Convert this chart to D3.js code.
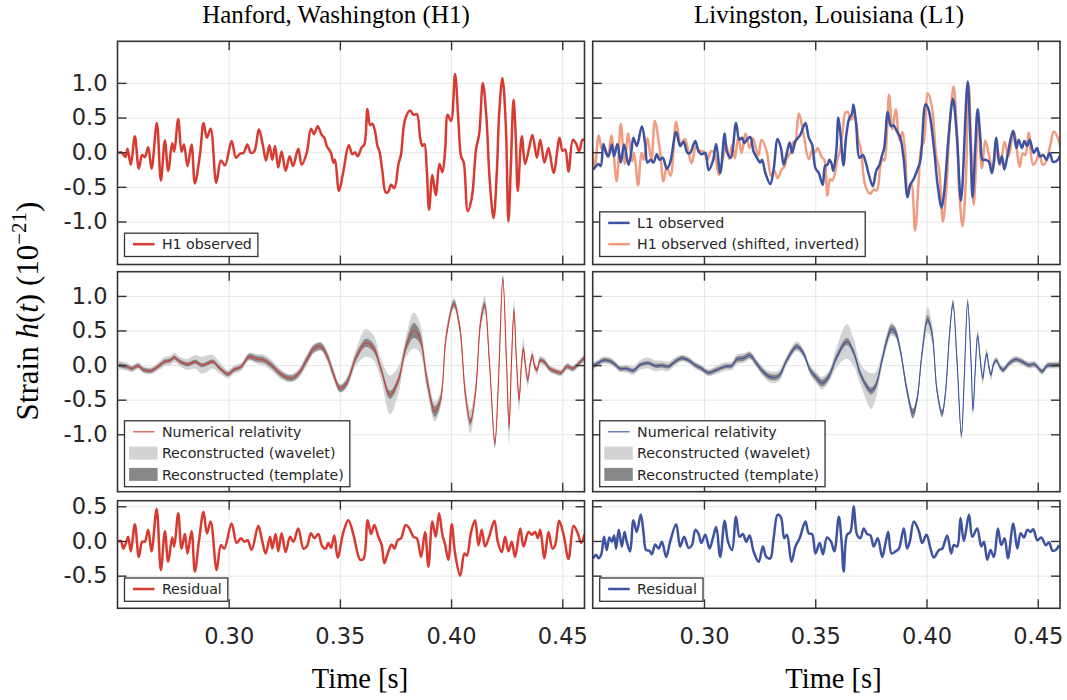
<!DOCTYPE html>
<html>
<head>
<meta charset="utf-8">
<script src="https://cdn.jsdelivr.net/npm/d3@7"></script>
<style>
  body { margin: 0; background: #fff; }
  svg text { font-family: "DejaVu Sans", sans-serif; }
</style>
</head>
<body>
<div id="chart"></div>
<script>
// ---- data ----
var timeDomain = [0.25, 0.46];
var timeTicks = [0.30, 0.35, 0.40, 0.45];
var strainTicks = [-1.0, -0.5, 0.0, 0.5, 1.0];
var residualTicks = [-0.5, 0.0, 0.5];
var columnTitles = ["Hanford, Washington (H1)", "Livingston, Louisiana (L1)"];
var h1Shift = 0.0069; // H1 shifted by 6.9 ms and inverted in the L1 panel

// [time s, strain 1e-21]
var h1Observed = [
  [0.2503,-0.01],[0.2515,0.00],[0.2526,-0.03],[0.2536,-0.07],[0.2545,0.05],[0.2560,-0.18],[0.2578,0.23],[0.2596,-0.24],
  [0.2611,-0.04],[0.2623,-0.07],[0.2638,0.07],[0.2653,-0.24],[0.2677,0.42],[0.2695,-0.41],[0.2713,0.17],[0.2728,-0.27],
  [0.2746,0.13],[0.2755,0.01],[0.2773,0.48],[0.2788,0.01],[0.2799,0.11],[0.2815,-0.20],[0.2833,0.11],[0.2848,-0.45],
  [0.2871,-0.03],[0.2887,0.42],[0.2902,0.21],[0.2919,0.34],[0.2944,-0.44],[0.2965,-0.12],[0.2983,-0.19],[0.3013,0.16],
  [0.3033,-0.08],[0.3051,-0.02],[0.3067,-0.01],[0.3084,0.11],[0.3100,-0.01],[0.3115,0.01],[0.3136,0.33],[0.3153,0.11],
  [0.3168,-0.12],[0.3183,0.10],[0.3196,-0.11],[0.3208,0.09],[0.3223,-0.22],[0.3238,0.01],[0.3256,-0.27],[0.3274,-0.06],
  [0.3289,-0.20],[0.3313,0.05],[0.3328,-0.18],[0.3351,-0.01],[0.3370,0.34],[0.3384,0.26],[0.3400,0.375],[0.3418,0.25],
  [0.3430,0.21],[0.3441,0.09],[0.3460,-0.01],[0.3471,-0.15],[0.3478,-0.11],[0.3496,-0.56],[0.3516,-0.27],[0.3540,0.10],
  [0.3556,-0.03],[0.3568,0.00],[0.3580,-0.06],[0.3598,0.07],[0.3610,0.11],[0.3624,0.625],[0.3636,0.39],[0.3646,0.41],
  [0.3658,0.30],[0.3669,0.09],[0.3678,0.01],[0.3691,-0.27],[0.3706,-0.58],[0.3718,-0.57],[0.3730,-0.47],[0.3745,-0.52],
  [0.3763,-0.18],[0.3775,-0.03],[0.3793,0.47],[0.3816,0.60],[0.3831,0.54],[0.3846,0.55],[0.3861,0.21],[0.3871,0.09],
  [0.3880,0.12],[0.3891,-0.27],[0.3901,-0.83],[0.3916,-0.33],[0.3931,-0.62],[0.3948,-0.17],[0.3961,-0.29],[0.3973,0.01],
  [0.3985,0.54],[0.4000,0.45],[0.4018,1.13],[0.4033,0.45],[0.4045,-0.06],[0.4057,-0.15],[0.4075,-0.85],[0.4093,-0.66],
  [0.4113,0.06],[0.4126,0.25],[0.4143,1.00],[0.4159,0.50],[0.4173,-0.37],[0.4191,-0.95],[0.4206,-0.27],[0.4216,0.54],
  [0.4231,1.07],[0.4246,0.40],[0.4258,-1.00],[0.4269,-0.18],[0.4281,0.76],[0.4291,0.21],[0.4300,-0.56],[0.4318,0.23],
  [0.4333,-0.17],[0.4351,0.06],[0.4366,0.25],[0.4386,-0.08],[0.4401,0.18],[0.4420,-0.15],[0.4438,0.06],[0.4461,-0.30],
  [0.4488,0.21],[0.4501,0.02],[0.4513,0.04],[0.4528,-0.28],[0.4548,0.18],[0.4563,0.12],[0.4576,0.01],[0.4591,0.18],
  [0.4603,0.16],[0.4626,-0.11],[0.4641,-0.30],[0.4659,-0.21],[0.4671,-0.06]
];

var l1Observed = [
  [0.2503,-0.25],[0.2515,-0.20],[0.2526,-0.17],[0.2536,-0.20],[0.2548,0.12],[0.2560,-0.01],[0.2571,-0.06],[0.2586,0.11],
  [0.2596,-0.06],[0.2611,0.12],[0.2626,-0.15],[0.2641,0.11],[0.2661,-0.18],[0.2673,-0.01],[0.2683,0.21],[0.2698,0.09],
  [0.2721,0.375],[0.2736,0.11],[0.2746,-0.15],[0.2761,-0.11],[0.2773,-0.15],[0.2788,-0.03],[0.2800,-0.11],[0.2815,-0.08],
  [0.2833,-0.24],[0.2848,-0.15],[0.2875,0.29],[0.2893,0.09],[0.2908,0.15],[0.2926,-0.01],[0.2938,-0.01],[0.2961,0.16],
  [0.2976,0.01],[0.2991,-0.03],[0.3006,-0.01],[0.3021,-0.26],[0.3040,-0.13],[0.3055,0.12],[0.3073,-0.30],[0.3093,0.27],
  [0.3103,0.01],[0.3121,-0.08],[0.3144,0.42],[0.3159,0.18],[0.3171,0.21],[0.3181,0.13],[0.3193,0.18],[0.3208,0.22],
  [0.3223,0.01],[0.3238,-0.08],[0.3253,-0.15],[0.3261,-0.11],[0.3276,-0.30],[0.3298,-0.46],[0.3313,-0.25],[0.3331,0.19],
  [0.3346,0.06],[0.3358,-0.18],[0.3369,-0.06],[0.3385,0.14],[0.3396,-0.01],[0.3411,0.16],[0.3433,0.25],[0.3456,0.42],
  [0.3471,0.21],[0.3486,0.11],[0.3501,-0.23],[0.3516,-0.30],[0.3534,-0.47],[0.3544,-0.20],[0.3555,-0.18],[0.3564,-0.11],
  [0.3574,-0.17],[0.3581,-0.27],[0.3594,-0.01],[0.3604,0.50],[0.3615,0.21],[0.3627,-0.19],[0.3639,0.23],[0.3654,0.50],
  [0.3664,0.54],[0.3672,0.69],[0.3684,0.40],[0.3699,-0.08],[0.3714,-0.04],[0.3729,-0.17],[0.3739,-0.30],[0.3759,-0.49],
  [0.3774,-0.27],[0.3789,-0.18],[0.3799,-0.06],[0.3810,0.06],[0.3826,0.58],[0.3840,0.375],[0.3852,0.39],[0.3867,0.30],
  [0.3882,0.21],[0.3897,-0.08],[0.3915,-0.65],[0.3927,-0.47],[0.3942,-0.39],[0.3957,-0.27],[0.3972,-0.13],[0.3996,0.69],
  [0.4009,0.62],[0.4032,0.11],[0.4050,-0.47],[0.4068,-0.80],[0.4080,-0.56],[0.4099,0.21],[0.4119,0.77],[0.4137,0.21],
  [0.4155,-0.70],[0.4185,1.02],[0.4197,0.21],[0.4207,-0.65],[0.4219,0.06],[0.4230,0.62],[0.4242,0.21],[0.4252,-0.11],
  [0.4264,-0.11],[0.4279,-0.13],[0.4294,-0.30],[0.4314,0.21],[0.4327,-0.17],[0.4339,-0.06],[0.4350,-0.25],[0.4365,-0.03],
  [0.4389,0.31],[0.4404,0.06],[0.4414,0.18],[0.4429,0.06],[0.4440,0.16],[0.4452,0.09],[0.4464,0.18],[0.4482,-0.01],
  [0.4497,0.06],[0.4509,-0.06],[0.4524,-0.04],[0.4539,-0.11],[0.4554,-0.01],[0.4569,-0.14],[0.4590,-0.11],[0.4602,-0.03]
];

// [time, numerical relativity, wavelet band half width, template band half width]
var h1Recon = [
  [0.2506,0.00,0.06,0.03],[0.2540,-0.02,0.06,0.03],[0.2566,-0.05,0.05,0.03],[0.2592,-0.01,0.05,0.03],
  [0.2618,-0.07,0.05,0.03],[0.2652,-0.08,0.05,0.03],[0.2687,-0.01,0.06,0.03],[0.2712,0.05,0.07,0.03],
  [0.2738,0.07,0.07,0.03],[0.2755,0.11,0.07,0.03],[0.2781,0.05,0.07,0.03],[0.2816,0.01,0.08,0.03],
  [0.2850,0.05,0.10,0.03],[0.2876,0.00,0.12,0.03],[0.2902,0.02,0.12,0.03],[0.2928,0.05,0.10,0.03],
  [0.2962,-0.05,0.08,0.03],[0.2997,-0.13,0.06,0.03],[0.3022,-0.07,0.06,0.03],[0.3057,-0.02,0.06,0.03],
  [0.3091,0.12,0.06,0.04],[0.3126,0.09,0.07,0.04],[0.3160,0.07,0.08,0.04],[0.3195,-0.01,0.08,0.04],
  [0.3238,-0.14,0.07,0.04],[0.3281,-0.19,0.06,0.04],[0.3315,-0.12,0.07,0.04],[0.3350,0.07,0.08,0.05],
  [0.3384,0.24,0.07,0.05],[0.3415,0.27,0.06,0.05],[0.3444,0.12,0.08,0.05],[0.3470,-0.12,0.08,0.05],
  [0.3501,-0.34,0.06,0.05],[0.3530,-0.26,0.08,0.05],[0.3574,0.12,0.12,0.05],[0.3617,0.32,0.20,0.06],
  [0.3651,0.25,0.18,0.06],[0.3686,-0.07,0.15,0.05],[0.3725,-0.43,0.28,0.06],[0.3763,-0.22,0.20,0.06],
  [0.3797,0.26,0.15,0.07],[0.3832,0.50,0.26,0.11],[0.3858,0.41,0.22,0.09],[0.3892,-0.22,0.15,0.07],
  [0.3927,-0.67,0.14,0.08],[0.3952,-0.51,0.12,0.06],[0.3978,0.41,0.10,0.05],[0.4013,0.89,0.08,0.05],
  [0.4039,0.55,0.10,0.05],[0.4064,-0.41,0.14,0.05],[0.4087,-0.82,0.17,0.05],[0.4111,-0.36,0.12,0.05],
  [0.4133,0.63,0.12,0.05],[0.4151,0.87,0.13,0.05],[0.4173,0.02,0.10,0.05],[0.4197,-1.13,0.08,0.05],
  [0.4214,-0.17,0.08,0.05],[0.4233,1.25,0.06,0.04],[0.4249,0.07,0.10,0.05],[0.4261,-0.89,0.24,0.07],
  [0.4271,-0.02,0.15,0.05],[0.4283,0.79,0.15,0.05],[0.4294,0.07,0.12,0.04],[0.4306,-0.50,0.15,0.05],
  [0.4316,-0.02,0.12,0.04],[0.4325,0.24,0.14,0.04],[0.4335,-0.02,0.10,0.04],[0.4345,-0.22,0.10,0.04],
  [0.4356,0.02,0.08,0.03],[0.4366,0.14,0.08,0.03],[0.4376,-0.02,0.07,0.03],[0.4387,-0.07,0.07,0.03],
  [0.4400,0.07,0.06,0.03],[0.4418,0.05,0.06,0.03],[0.4443,-0.05,0.05,0.03],[0.4469,-0.09,0.05,0.03],
  [0.4495,-0.11,0.05,0.03],[0.4521,-0.02,0.05,0.03],[0.4547,-0.05,0.05,0.03],[0.4573,0.02,0.05,0.03],
  [0.4598,0.10,0.05,0.03]
];

var l1Recon = [
  [0.2502,-0.01,0.05,0.03],[0.2525,0.03,0.05,0.03],[0.2547,0.07,0.05,0.03],[0.2577,0.06,0.05,0.03],
  [0.2600,0.01,0.05,0.03],[0.2622,-0.05,0.05,0.03],[0.2652,-0.05,0.06,0.03],[0.2682,-0.08,0.06,0.03],
  [0.2712,0.00,0.07,0.03],[0.2750,0.03,0.08,0.03],[0.2780,-0.01,0.08,0.03],[0.2810,-0.005,0.07,0.03],
  [0.2840,-0.02,0.07,0.03],[0.2870,0.05,0.06,0.03],[0.2900,0.10,0.05,0.03],[0.2930,0.07,0.05,0.03],
  [0.2960,0.00,0.05,0.03],[0.2990,-0.05,0.05,0.03],[0.3020,-0.11,0.05,0.03],[0.3057,-0.07,0.06,0.03],
  [0.3095,-0.02,0.06,0.03],[0.3125,-0.01,0.06,0.03],[0.3147,0.08,0.07,0.04],[0.3177,0.10,0.07,0.04],
  [0.3207,0.14,0.06,0.04],[0.3237,0.02,0.06,0.04],[0.3267,-0.10,0.07,0.04],[0.3297,-0.17,0.08,0.04],
  [0.3335,-0.16,0.08,0.04],[0.3372,0.07,0.07,0.04],[0.3417,0.27,0.07,0.04],[0.3447,0.17,0.06,0.04],
  [0.3477,-0.07,0.07,0.04],[0.3507,-0.19,0.08,0.05],[0.3530,-0.26,0.09,0.05],[0.3560,-0.17,0.08,0.05],
  [0.3597,0.12,0.15,0.05],[0.3642,0.34,0.25,0.05],[0.3672,0.19,0.20,0.05],[0.3702,-0.12,0.15,0.05],
  [0.3732,-0.31,0.22,0.05],[0.3750,-0.375,0.26,0.05],[0.3770,-0.31,0.20,0.05],[0.3800,0.07,0.10,0.05],
  [0.3822,0.36,0.10,0.06],[0.3842,0.52,0.10,0.06],[0.3860,0.48,0.08,0.06],[0.3882,0.22,0.07,0.05],
  [0.3912,-0.36,0.07,0.06],[0.3939,-0.70,0.06,0.07],[0.3957,-0.51,0.06,0.06],[0.3980,0.17,0.10,0.05],
  [0.4005,0.66,0.18,0.06],[0.4025,0.46,0.14,0.06],[0.4047,-0.36,0.06,0.05],[0.4070,-0.70,0.06,0.05],
  [0.4085,-0.41,0.06,0.05],[0.4104,0.46,0.06,0.05],[0.4119,0.89,0.06,0.05],[0.4137,0.07,0.06,0.05],
  [0.4157,-1.01,0.06,0.05],[0.4170,-0.17,0.06,0.04],[0.4185,0.91,0.07,0.04],[0.4200,0.07,0.07,0.04],
  [0.4209,-0.65,0.07,0.04],[0.4220,-0.02,0.07,0.04],[0.4230,0.43,0.09,0.04],[0.4242,0.07,0.07,0.04],
  [0.4253,-0.19,0.09,0.04],[0.4262,0.02,0.07,0.03],[0.4271,0.17,0.08,0.03],[0.4280,-0.02,0.06,0.03],
  [0.4290,-0.14,0.08,0.03],[0.4302,0.02,0.06,0.03],[0.4314,0.07,0.05,0.03],[0.4329,-0.02,0.05,0.03],
  [0.4344,-0.07,0.05,0.03],[0.4370,0.02,0.05,0.03],[0.4400,0.08,0.05,0.03],[0.4430,0.05,0.05,0.03],
  [0.4460,0.00,0.05,0.03],[0.4485,0.01,0.05,0.03],[0.4520,-0.09,0.05,0.03],[0.4542,-0.01,0.05,0.03],
  [0.4572,0.00,0.05,0.03],[0.4602,0.005,0.05,0.03]
];

var h1Residual = [
  [0.2503,-0.01],[0.2515,0.00],[0.2526,-0.11],[0.2538,-0.03],[0.2548,0.06],[0.2560,-0.15],[0.2578,0.24],[0.2596,-0.23],
  [0.2611,-0.01],[0.2623,-0.01],[0.2638,0.16],[0.2653,-0.15],[0.2676,0.46],[0.2695,-0.42],[0.2713,0.14],[0.2728,-0.30],
  [0.2746,0.05],[0.2755,-0.08],[0.2773,0.40],[0.2788,-0.11],[0.2803,0.10],[0.2815,-0.18],[0.2833,0.14],[0.2848,-0.44],
  [0.2866,-0.01],[0.2887,0.42],[0.2902,0.11],[0.2919,0.28],[0.2946,-0.42],[0.2965,-0.06],[0.2980,-0.11],[0.3013,0.25],
  [0.3036,-0.03],[0.3055,0.04],[0.3070,-0.01],[0.3085,0.01],[0.3103,-0.13],[0.3133,0.22],[0.3148,0.04],[0.3166,-0.18],
  [0.3186,0.06],[0.3196,-0.11],[0.3211,0.10],[0.3223,-0.15],[0.3238,0.11],[0.3256,-0.16],[0.3276,0.06],[0.3291,-0.01],
  [0.3313,0.18],[0.3336,-0.11],[0.3351,-0.08],[0.3370,0.11],[0.3385,0.04],[0.3403,0.10],[0.3421,-0.08],[0.3436,-0.11],
  [0.3448,-0.03],[0.3460,-0.10],[0.3475,0.08],[0.3490,-0.24],[0.3516,0.13],[0.3538,0.30],[0.3561,0.09],[0.3576,-0.13],
  [0.3591,-0.27],[0.3606,-0.26],[0.3625,0.30],[0.3640,0.10],[0.3655,0.23],[0.3673,0.06],[0.3688,-0.06],[0.3700,-0.32],
  [0.3715,-0.18],[0.3733,-0.05],[0.3745,-0.11],[0.3760,0.01],[0.3775,0.04],[0.3796,0.23],[0.3811,0.19],[0.3831,0.06],
  [0.3846,0.04],[0.3865,-0.23],[0.3883,0.13],[0.3898,-0.37],[0.3916,0.28],[0.3931,0.06],[0.3946,0.40],[0.3961,0.09],
  [0.3973,-0.05],[0.3988,-0.27],[0.4003,0.24],[0.4018,-0.18],[0.4041,-0.50],[0.4060,-0.18],[0.4071,-0.21],[0.4090,0.13],
  [0.4108,0.30],[0.4123,-0.06],[0.4138,0.16],[0.4153,-0.08],[0.4171,0.06],[0.4195,0.29],[0.4210,-0.01],[0.4228,-0.16],
  [0.4243,0.06],[0.4258,-0.15],[0.4273,-0.01],[0.4288,-0.23],[0.4311,0.18],[0.4326,-0.08],[0.4348,0.13],[0.4363,0.09],
  [0.4378,0.13],[0.4390,0.04],[0.4401,0.16],[0.4420,-0.25],[0.4438,0.13],[0.4456,-0.11],[0.4468,-0.06],[0.4486,0.29],
  [0.4506,0.09],[0.4528,-0.26],[0.4551,0.22],[0.4570,0.11],[0.4585,-0.03],[0.4600,0.10]
];

var l1Residual = [
  [0.2503,-0.25],[0.2515,-0.20],[0.2526,-0.25],[0.2538,-0.20],[0.2551,0.06],[0.2563,-0.13],[0.2575,0.05],[0.2586,-0.01],
  [0.2596,0.08],[0.2605,-0.11],[0.2617,0.16],[0.2631,-0.08],[0.2643,0.13],[0.2653,-0.01],[0.2668,-0.15],[0.2683,0.30],
  [0.2698,0.13],[0.2716,0.38],[0.2728,0.13],[0.2740,-0.13],[0.2755,-0.14],[0.2766,-0.19],[0.2781,-0.05],[0.2796,-0.11],
  [0.2811,-0.01],[0.2830,-0.23],[0.2848,-0.01],[0.2875,0.24],[0.2893,-0.08],[0.2911,0.06],[0.2931,-0.10],[0.2946,-0.06],
  [0.2961,0.16],[0.2976,0.10],[0.2988,-0.03],[0.3006,0.09],[0.3025,-0.11],[0.3040,0.04],[0.3055,0.20],[0.3073,-0.23],
  [0.3093,0.29],[0.3108,-0.01],[0.3126,-0.13],[0.3144,0.35],[0.3160,0.06],[0.3175,0.10],[0.3190,-0.01],[0.3205,0.08],
  [0.3223,-0.15],[0.3246,-0.30],[0.3265,-0.08],[0.3280,-0.23],[0.3298,-0.25],[0.3313,0.04],[0.3331,0.38],[0.3346,0.34],
  [0.3361,0.04],[0.3373,0.09],[0.3393,-0.30],[0.3411,-0.08],[0.3430,0.04],[0.3456,0.28],[0.3471,0.11],[0.3486,0.10],
  [0.3501,-0.18],[0.3520,-0.03],[0.3535,-0.19],[0.3553,0.05],[0.3571,-0.01],[0.3586,-0.15],[0.3606,0.35],[0.3618,0.01],
  [0.3628,-0.44],[0.3643,0.09],[0.3658,0.13],[0.3673,0.50],[0.3688,0.09],[0.3703,0.04],[0.3718,0.18],[0.3733,0.10],
  [0.3748,0.08],[0.3763,-0.08],[0.3781,0.04],[0.3801,-0.23],[0.3816,-0.03],[0.3828,0.13],[0.3843,-0.18],[0.3861,-0.15],
  [0.3876,-0.11],[0.3898,0.18],[0.3913,-0.11],[0.3925,-0.01],[0.3943,0.28],[0.3966,0.14],[0.3981,-0.03],[0.4000,0.09],
  [0.4018,-0.11],[0.4033,-0.24],[0.4056,-0.13],[0.4071,-0.11],[0.4093,0.08],[0.4111,-0.18],[0.4123,-0.06],[0.4138,-0.08],
  [0.4153,0.33],[0.4168,0.00],[0.4191,0.38],[0.4206,0.06],[0.4228,0.18],[0.4246,-0.08],[0.4258,-0.01],[0.4273,-0.27],
  [0.4288,-0.13],[0.4303,-0.23],[0.4321,0.18],[0.4336,-0.06],[0.4351,0.04],[0.4366,-0.25],[0.4390,0.25],[0.4408,-0.11],
  [0.4423,0.11],[0.4438,0.05],[0.4453,0.16],[0.4468,0.13],[0.4480,0.17],[0.4498,0.01],[0.4516,0.05],[0.4536,-0.06],
  [0.4551,-0.02],[0.4566,-0.14],[0.4581,-0.13],[0.4596,-0.06]
];

// ---- colours ----
var h1Color = "#d93a2f";
var l1Color = "#3d52a1";
var h1InvColor = "#ef9c80";
var waveletColor = "#d2d3d5";
var templateColor = "#87888a";

// ---- layout ----
var svg = d3.select("#chart").append("svg")
  .attr("width", 1067)
  .attr("height", 700);
var defs = svg.append("defs");

var cols = [{x0: 117.5, x1: 584.5}, {x0: 592.7, x1: 1060}];
var rows = [
  {y0: 41.3, y1: 264.5, dom: [-1.62, 1.60], ticks: strainTicks, legendGap: 8},
  {y0: 271.7, y1: 491.7, dom: [-1.83, 1.35], ticks: strainTicks, legendGap: 5},
  {y0: 500.7, y1: 608.3, dom: [-0.97, 0.58], ticks: residualTicks, legendGap: 7}
];

function makePanel(ci, ri) {
  var c = cols[ci], r = rows[ri];
  var w = c.x1 - c.x0, h = r.y1 - r.y0;
  var x = d3.scaleLinear().domain(timeDomain).range([c.x0, c.x1]);
  var y = d3.scaleLinear().domain(r.dom).range([r.y1, r.y0]);
  var id = "clip" + ci + ri;
  defs.append("clipPath").attr("id", id)
    .append("rect").attr("x", c.x0).attr("y", r.y0).attr("width", w).attr("height", h);

  // grid
  var grid = svg.append("g");
  grid.append("g").attr("transform", "translate(0," + r.y1 + ")")
    .call(d3.axisBottom(x).tickValues(timeTicks).tickSize(-h).tickFormat(""));
  grid.append("g").attr("transform", "translate(" + c.x0 + ",0)")
    .call(d3.axisLeft(y).tickValues(r.ticks).tickSize(-w).tickFormat(""));
  grid.selectAll(".domain").remove();
  grid.selectAll("line").attr("stroke", "#e6e6e6").attr("stroke-width", 1);

  var plot = svg.append("g").attr("clip-path", "url(#" + id + ")");
  return {x: x, y: y, c: c, r: r, w: w, h: h, plot: plot, ci: ci, ri: ri};
}

function drawLine(p, data, color, width) {
  var line = d3.line()
    .x(function(d) { return p.x(d[0]); })
    .y(function(d) { return p.y(d[1]); })
    .curve(d3.curveCatmullRom.alpha(0.5));
  p.plot.append("path")
    .datum(data)
    .attr("d", line)
    .attr("fill", "none")
    .attr("stroke", color)
    .attr("stroke-width", width)
    .attr("stroke-linejoin", "round");
}

function drawBand(p, data, k, color) {
  var area = d3.area()
    .x(function(d) { return p.x(d[0]); })
    .y0(function(d) { return p.y(d[1] - d[k]); })
    .y1(function(d) { return p.y(d[1] + d[k]); })
    .curve(d3.curveCatmullRom.alpha(0.5));
  p.plot.append("path").datum(data).attr("d", area).attr("fill", color).attr("stroke", "none");
}

function drawAxes(p) {
  var showX = p.ri === 2, showY = p.ci === 0;
  var axes = svg.append("g").attr("color", "#262626");
  axes.append("g").attr("transform", "translate(0," + p.r.y1 + ")")
    .call(d3.axisBottom(p.x).tickValues(timeTicks).tickSizeInner(-9).tickSizeOuter(0).tickPadding(19.5)
      .tickFormat(showX ? d3.format(".2f") : ""));
  axes.append("g").attr("transform", "translate(0," + p.r.y0 + ")")
    .call(d3.axisTop(p.x).tickValues(timeTicks).tickSizeInner(-9).tickSizeOuter(0).tickFormat(""));
  axes.append("g").attr("transform", "translate(" + p.c.x0 + ",0)")
    .call(d3.axisLeft(p.y).tickValues(p.r.ticks).tickSizeInner(-9).tickSizeOuter(0).tickPadding(10)
      .tickFormat(showY ? function(d) { return d.toFixed(1); } : ""));
  axes.append("g").attr("transform", "translate(" + p.c.x1 + ",0)")
    .call(d3.axisRight(p.y).tickValues(p.r.ticks).tickSizeInner(-9).tickSizeOuter(0).tickFormat(""));
  axes.selectAll(".domain").remove();
  axes.selectAll(".tick line").attr("stroke", "#333").attr("stroke-width", 1.4);
  axes.selectAll("text").style("font-size", "22.5px").attr("fill", "#262626");

  svg.append("rect")
    .attr("x", p.c.x0).attr("y", p.r.y0)
    .attr("width", p.w).attr("height", p.h)
    .attr("fill", "none").attr("stroke", "#333").attr("stroke-width", 1.6);
}

function drawLegend(p, items) {
  var rowH = 21.3;
  var bx = p.c.x0 + 7;
  var bh = 23.3 + (items.length - 1) * rowH;
  var by = p.r.y1 - p.r.legendGap - bh;
  var g = svg.append("g");
  var box = g.append("rect").attr("x", bx).attr("y", by).attr("height", bh)
    .attr("fill", "#fff").attr("stroke", "#333").attr("stroke-width", 1.3);
  var maxLen = 0;
  items.forEach(function(it, i) {
    var cy = by + 11 + i * rowH;
    if (it.patch) {
      g.append("rect").attr("x", bx + 4.6).attr("y", cy - 6.5).attr("width", 28.5).attr("height", 13)
        .attr("fill", it.color);
    } else {
      g.append("line").attr("x1", bx + 8.5).attr("x2", bx + 30).attr("y1", cy).attr("y2", cy)
        .attr("stroke", it.color).attr("stroke-width", it.width);
    }
    var t = g.append("text").attr("x", bx + 37.4).attr("y", cy).attr("dy", "0.36em")
      .style("font-size", "14.2px").attr("fill", "#262626").text(it.label);
    maxLen = Math.max(maxLen, t.node().getComputedTextLength());
  });
  box.attr("width", 37.4 + maxLen + 6);
}

// ---- top row: observed ----
var p = makePanel(0, 0);
drawLine(p, h1Observed, h1Color, 2.5);
drawAxes(p);
drawLegend(p, [{label: "H1 observed", color: h1Color, width: 2.5}]);

p = makePanel(1, 0);
drawLine(p, h1Observed.map(function(d) { return [d[0] - h1Shift, -d[1]]; }), h1InvColor, 2.5);
drawLine(p, l1Observed, l1Color, 2.5);
drawAxes(p);
drawLegend(p, [
  {label: "L1 observed", color: l1Color, width: 2.5},
  {label: "H1 observed (shifted, inverted)", color: h1InvColor, width: 2.5}
]);

// ---- middle row: reconstructions ----
[[h1Recon, h1Color], [l1Recon, l1Color]].forEach(function(s, ci) {
  var q = makePanel(ci, 1);
  drawBand(q, s[0], 2, waveletColor);
  drawBand(q, s[0], 3, templateColor);
  drawLine(q, s[0], s[1], 1.1);
  drawAxes(q);
  drawLegend(q, [
    {label: "Numerical relativity", color: s[1], width: 1.1},
    {label: "Reconstructed (wavelet)", color: waveletColor, patch: true},
    {label: "Reconstructed (template)", color: templateColor, patch: true}
  ]);
});

// ---- bottom row: residuals ----
[[h1Residual, h1Color], [l1Residual, l1Color]].forEach(function(s, ci) {
  var q = makePanel(ci, 2);
  drawLine(q, s[0], s[1], 2.5);
  drawAxes(q);
  drawLegend(q, [{label: "Residual", color: s[1], width: 2.5}]);
});

// ---- titles and axis labels ----
var serif = "'Liberation Serif', 'Times New Roman', serif";
[336, 829].forEach(function(cx, i) {
  svg.append("text").attr("x", cx).attr("y", 23).attr("text-anchor", "middle")
    .style("font-family", serif).style("font-size", "25px").attr("fill", "#000")
    .text(columnTitles[i]);
});
[360, 833.5].forEach(function(cx) {
  svg.append("text").attr("x", cx).attr("y", 688).attr("text-anchor", "middle")
    .style("font-family", serif).style("font-size", "28.5px").attr("fill", "#000")
    .text("Time [s]");
});

var ylab = svg.append("text")
  .attr("transform", "translate(38,311) rotate(-90)")
  .attr("text-anchor", "middle")
  .style("font-family", serif).style("font-size", "31px").attr("fill", "#000");
ylab.append("tspan").text("Strain ");
ylab.append("tspan").style("font-style", "italic").text("h");
ylab.append("tspan").text("(");
ylab.append("tspan").style("font-style", "italic").text("t");
ylab.append("tspan").text(") (10");
ylab.append("tspan").attr("dy", -12).style("font-size", "21px").text("\u221221");
ylab.append("tspan").attr("dy", 12).text(")");
</script>
</body>
</html>
